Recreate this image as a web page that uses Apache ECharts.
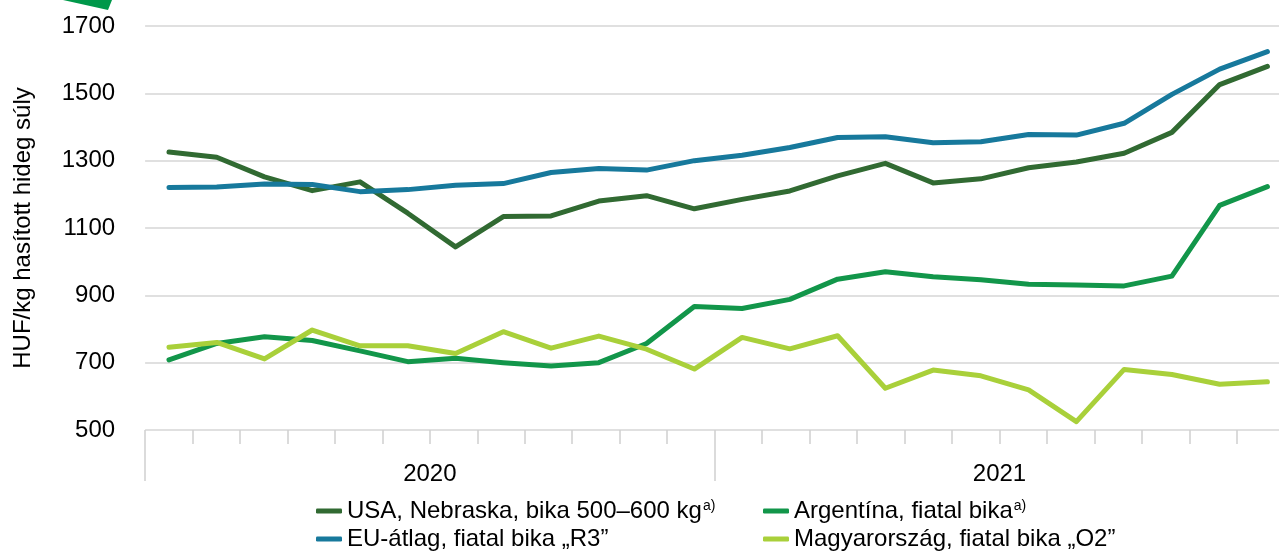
<!DOCTYPE html>
<html>
<head>
<meta charset="utf-8">
<script src="https://cdn.jsdelivr.net/npm/echarts@6/dist/echarts.min.js"></script>
<style>
html,body{margin:0;padding:0;background:#fff;}
#c{width:1279px;height:552px;}
</style>
</head>
<body>
<div id="c"></div>
<script>
// ---- data ----
const months = ['I','II','III','IV','V','VI','VII','VIII','IX','X','XI','XII',
                'I','II','III','IV','V','VI','VII','VIII','IX','X','XI','XII'];
const years = ['2020','2021'];
const yTicks = [500, 700, 900, 1100, 1300, 1500, 1700];
const usa = [1326,1310,1252,1211,1237,1144,1044,1134,1136,1180,1196,1157,1185,1210,1255,1292,1234,1246,1279,1296,1322,1384,1526,1580];
const eu  = [1220,1222,1231,1229,1208,1214,1227,1232,1265,1277,1272,1300,1316,1339,1369,1371,1353,1356,1378,1376,1411,1497,1572,1624];
const arg = [708,757,777,766,735,703,713,700,690,700,757,867,861,888,948,970,955,946,933,931,928,957,1167,1223];
const hu  = [746,760,711,797,750,750,727,792,743,779,740,681,775,741,780,624,678,661,619,525,680,665,636,643];
const names = {
  usa: 'USA, Nebraska, bika 500–600 kg',
  eu: 'EU-átlag, fiatal bika „R3”',
  arg: 'Argentína, fiatal bika',
  hu: 'Magyarország, fiatal bika „O2”'
};
const supNames = [names.usa, names.arg];
const yName = 'HUF/kg hasított hideg súly';

const FONT = '"Liberation Sans", Arial, sans-serif';
const colors = { usa:'#316a32', eu:'#17799c', arg:'#12964a', hu:'#a9d03a' };

const chart = echarts.init(document.getElementById('c'), null, {renderer:'canvas'});

function lineSeries(name, data, color) {
  return {
    type:'line', name, data, xAxisIndex:0, yAxisIndex:0,
    symbol:'none', smooth:false, color,
    lineStyle:{ width:5, color, cap:'round', join:'round' },
    itemStyle:{ color },
    emphasis:{ disabled:true },
    animation:false
  };
}

const legendCommon = {
  orient:'vertical',
  icon:'roundRect',
  itemWidth:26, itemHeight:5,
  itemGap:4,
  selectedMode:false,
  padding:0,
  formatter: function(n){
    return supNames.indexOf(n) >= 0 ? '{n|' + n + '}{s|a)}' : '{n|' + n + '}';
  },
  textStyle:{
    fontFamily:FONT, fontSize:24, color:'#000', lineHeight:24,
    rich:{
      n:{ fontFamily:FONT, fontSize:24, color:'#000', lineHeight:24 },
      s:{ fontFamily:FONT, fontSize:14, color:'#000', lineHeight:14, verticalAlign:'top', padding:[0,0,6,1] }
    }
  }
};

const option = {
  animation:false,
  backgroundColor:'#fff',
  grid:[
    { left:145.1, width:1146.2, top:26, height:404, containLabel:false, outerBoundsMode:'none' },
    { left:145, width:1139.3, top:26, height:404, containLabel:false, outerBoundsMode:'none' }
  ],
  xAxis:[
    { type:'category', gridIndex:0, data:months, boundaryGap:true,
      axisLine:{show:false}, axisTick:{show:false}, axisLabel:{show:false}, splitLine:{show:false} },
    { type:'category', gridIndex:1, data:months, boundaryGap:true, position:'bottom',
      axisLine:{show:false},
      axisTick:{show:true, interval:0, length:14, lineStyle:{color:'#d0d0d0', width:1.5}},
      axisLabel:{show:false}, splitLine:{show:false} },
    { type:'category', gridIndex:1, data:years, boundaryGap:true, position:'bottom',
      axisLine:{show:false},
      axisTick:{show:true, interval:0, length:51, lineStyle:{color:'#d0d0d0', width:1.5}},
      axisLabel:{show:true, interval:0, margin:32, fontFamily:FONT, fontSize:24, color:'#000'},
      splitLine:{show:false} }
  ],
  yAxis:[
    { type:'value', gridIndex:0, min:yTicks[0], max:yTicks[yTicks.length-1], interval:200,
      name:yName, nameLocation:'middle', nameGap:110, nameRotate:90,
      nameTextStyle:{fontFamily:FONT, fontSize:24, color:'#000'},
      axisLine:{show:false}, axisTick:{show:false},
      axisLabel:{margin:30, fontFamily:FONT, fontSize:24, color:'#000', formatter:function(v){return String(v);}},
      splitLine:{show:true, lineStyle:{color:'#d6d6d6', width:1.5}} },
    { type:'value', gridIndex:1, min:yTicks[0], max:yTicks[yTicks.length-1], interval:200, show:false }
  ],
  legend:[
    Object.assign({}, legendCommon, { left:316, top:499, data:[names.usa, names.eu] }),
    Object.assign({}, legendCommon, { left:763, top:499, data:[names.arg, names.hu] })
  ],
  graphic:[
    { type:'polygon', shape:{ points:[[63,0],[112,0],[108,10]] }, style:{ fill:'#00984a' }, z:10 }
  ],
  series:[
    lineSeries(names.usa, usa, colors.usa),
    lineSeries(names.arg, arg, colors.arg),
    lineSeries(names.eu, eu, colors.eu),
    lineSeries(names.hu, hu, colors.hu)
  ]
};
chart.setOption(option);
</script>
</body>
</html>
